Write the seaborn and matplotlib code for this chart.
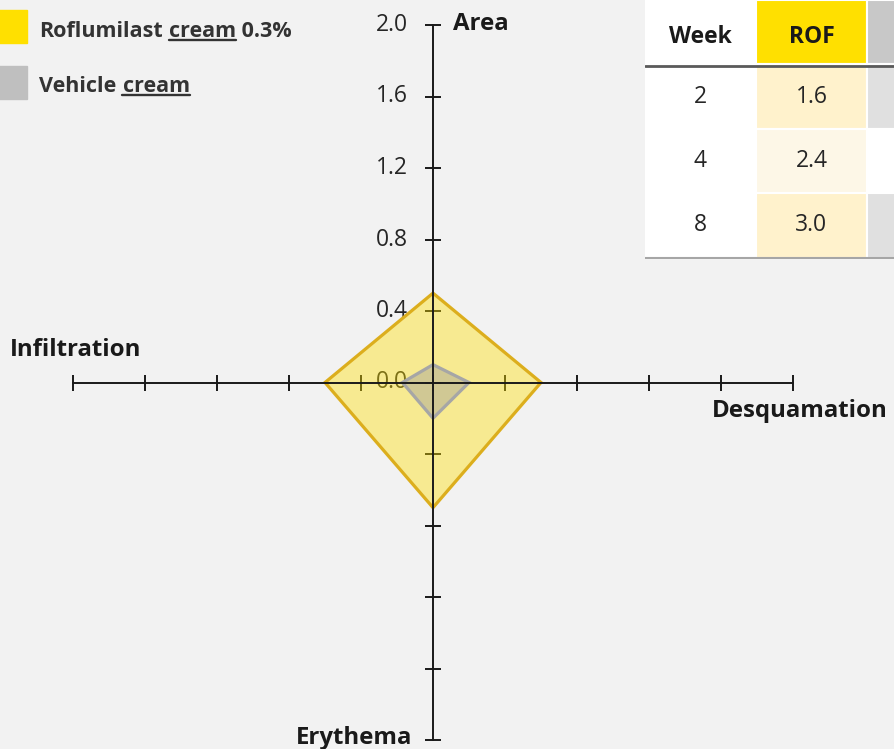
import numpy as np
import matplotlib.pyplot as plt
import seaborn as sns
from matplotlib.patches import Rectangle
from matplotlib.lines import Line2D
from matplotlib.ticker import FuncFormatter

# radar axes (clockwise from top) and the two series
axis_names = ["Area", "Desquamation", "Erythema", "Infiltration"]
axis_angles = [90, 0, 270, 180]
rof_values = [0.5, 0.6, 0.7, 0.6]
vehicle_values = [0.1, 0.2, 0.2, 0.17]
series_names = ["Roflumilast", "Vehicle"]
tick_values = np.round(np.arange(-2.0, 2.01, 0.4), 1) + 0.0

# table in the top right corner
table_header = ["Week", "ROF", ""]
weeks = ["2", "4", "8"]
rof_table = ["1.6", "2.4", "3.0"]

BG = "#f2f2f2"
YELLOW = "#ffe000"
GOLD = "#dcae1d"
GREY = "#a6a6a6"
TXT = "#262626"

sns.set_theme(style="white")
plt.rcParams["font.family"] = ["Open Sans", "DejaVu Sans"]

fig = plt.figure(figsize=(8.94, 7.49), dpi=100, facecolor=BG)
W, H = 894, 749

ax = fig.add_axes([73 / W, 1 - 740 / H, 720 / W, 715 / H])
ax.set_facecolor(BG)
ax.set_xlim(-2, 2)
ax.set_ylim(-2, 2)

rad = np.deg2rad(axis_angles)
for vals, face, edge, alpha in [(rof_values, YELLOW, GOLD, 0.4),
                                (vehicle_values, "#9a9a9a", GREY, 0.42)]:
    v = np.array(vals)
    ax.fill(v * np.cos(rad), v * np.sin(rad), facecolor=face, alpha=alpha, zorder=1)
    ax.fill(v * np.cos(rad), v * np.sin(rad), facecolor="none", edgecolor=edge,
            lw=2.3, joinstyle="miter", zorder=1.5)

for s in ["top", "right"]:
    ax.spines[s].set_visible(False)
for s in ["left", "bottom"]:
    ax.spines[s].set_position(("data", 0))
    ax.spines[s].set_color("#1a1a1a")
    ax.spines[s].set_linewidth(1.4)

ax.set_xticks(tick_values)
ax.set_yticks(tick_values)
ax.xaxis.set_major_formatter(FuncFormatter(lambda v, p: ""))
ax.yaxis.set_major_formatter(FuncFormatter(lambda v, p: f"{abs(v):.1f}" if v > -0.01 else ""))
ax.tick_params(left=True, bottom=True, direction="inout", length=12, width=1.4,
               color="#1a1a1a", labelsize=16.5, labelcolor=TXT, pad=12)
for lab in ax.get_yticklabels():
    lab.set_verticalalignment("center")

ends = [(0, 2), (2, 0), (0, -2), (-2, 0)]
offsets = [((14.4, -3.6), "left"), ((68.4, -25), "right"),
           ((-15, -2.9), "right"), ((-45.4, 19.4), "left")]
for name, xy, (off, ha) in zip(axis_names, ends, offsets):
    ax.annotate(name, xy=xy, xytext=off, textcoords="offset points", ha=ha,
                va="baseline", fontsize=17.3, fontweight="bold", color="#1a1a1a",
                annotation_clip=False)

# legend drawn by hand (part of the label is underlined)
leg_colors = [YELLOW, "#bfbfbf"]
leg_boxes = [(10, 43), (66, 99)]
leg_base = [36.7, 91.7]
leg_tail = [" 0.3%", ""]
under = []
for name, col, (y0, y1), yb, tail in zip(series_names, leg_colors, leg_boxes, leg_base, leg_tail):
    fig.patches.append(Rectangle((-2 / W, 1 - y1 / H), 29 / W, (y1 - y0) / H,
                                 transform=fig.transFigure, color=col))
    t1 = fig.text(39 / W, 1 - yb / H, name, fontsize=15.5, fontweight="bold",
                  color="#333333", va="baseline")
    t2 = ax.annotate("cream", xy=(1, 0), xycoords=t1, xytext=(4.5, 0),
                     textcoords="offset points", va="bottom", fontsize=15.5,
                     fontweight="bold", color="#333333", annotation_clip=False)
    under.append(t2)
    if tail:
        ax.annotate(tail, xy=(1, 0), xycoords=t2, va="bottom", fontsize=15.5,
                    fontweight="bold", color="#333333", annotation_clip=False)

# table
tax = fig.add_axes([645 / W, 1 - 259 / H, 333 / W, 259 / H])
tax.set_xlim(0, 3)
tax.set_ylim(4.02, 0)
tax.axis("off")
col_fill = [["white"] * 4,
            [YELLOW, "#fff2cc", "#fdf7e7", "#fff2cc"],
            ["#c8c8c8", "#e0e0e0", "white", "#e0e0e0"]]
for c in range(3):
    for r in range(4):
        tax.add_patch(Rectangle((c, r), 1, 1, facecolor=col_fill[c][r],
                                edgecolor="white", lw=1.5))
for c, h in enumerate(table_header):
    tax.text(c + 0.5, 0.58, h, ha="center", va="center", fontsize=16.5,
             fontweight="bold", color="#1a1a1a")
for r, (wk, rv) in enumerate(zip(weeks, rof_table)):
    tax.text(0.5, r + 1.5, wk, ha="center", va="center", fontsize=16.5, color=TXT)
    tax.text(1.5, r + 1.5, rv, ha="center", va="center", fontsize=16.5, color=TXT)
tax.plot([0, 3], [1.02, 1.02], color="#5a5a5a", lw=2)
tax.plot([0, 3], [4.0, 4.0], color="#a6a6a6", lw=1.5)

fig.canvas.draw()
r = fig.canvas.get_renderer()
for t in under:
    bb = t.get_window_extent(r)
    fig.lines.append(Line2D([bb.x0 / W, bb.x1 / W], [(bb.y0 + 2) / H] * 2,
                            transform=fig.transFigure, color="#333333", lw=1.7))

fig.savefig("out.png", dpi=100, facecolor=BG)
